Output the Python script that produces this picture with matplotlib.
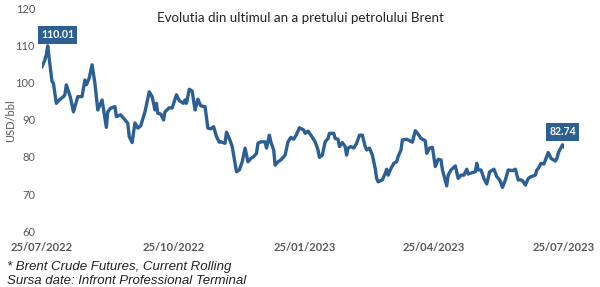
import numpy as np
import pandas as pd
import matplotlib
matplotlib.use("Agg")
import matplotlib.pyplot as plt
import matplotlib.dates as mdates

# days since 25/07/2022 and Brent price (USD/bbl)
start = pd.Timestamp("2022-07-25")
day = [0, 2, 3, 4, 5, 7, 8, 10, 12, 15, 16, 17, 19, 20, 22, 25, 28, 30, 31, 33,
       35, 37, 39, 40, 42, 45, 46, 48, 51, 52, 55, 58, 60, 61, 63, 65, 67, 69, 72, 75,
       77, 79, 80, 81, 83, 85, 86, 89, 91, 94, 96, 99, 100, 101, 103, 105, 107, 109, 111, 114,
       116, 118, 120, 122, 124, 125, 128, 129, 131, 133, 135, 136, 138, 140, 142, 144, 146, 148, 150, 151,
       153, 156, 157, 159, 160, 162, 163, 165, 167, 170, 172, 174, 176, 178, 180, 183, 184, 186, 188, 191,
       193, 194, 196, 198, 200, 201, 204, 205, 207, 208, 210, 212, 213, 214, 216, 218, 220, 222, 224, 226,
       227, 229, 231, 233, 234, 235, 238, 240, 241, 242, 244, 246, 248, 249, 251, 252, 255, 257, 259, 261,
       263, 265, 268, 269, 271, 273, 275, 277, 279, 280, 283, 284, 286, 289, 291, 293, 295, 297, 298, 301,
       303, 304, 305, 307, 309, 311, 313, 316, 318, 320, 322, 324, 326, 329, 331, 333, 335, 336, 338, 340,
       342, 345, 346, 347, 349, 351, 352, 354, 356, 359, 360, 361, 362, 364, 365]
price = [104.4, 106.2, 107.6, 110.01, 106.7, 100.4, 99.9, 94.5, 95.4, 96.3, 96.8, 99.5, 97.2, 95.9, 92.2, 96.3, 96.3, 100.8, 99.5, 101.3,
         104.9, 99.9, 92.7, 93.6, 95.4, 88.0, 92.2, 93.2, 93.6, 90.9, 91.4, 90.0, 89.1, 85.5, 83.9, 89.2, 87.8, 88.4, 92.2, 97.6,
         96.3, 92.7, 94.5, 91.8, 91.6, 90.0, 92.2, 93.3, 93.2, 96.8, 95.2, 94.5, 95.4, 94.5, 98.3, 97.8, 92.7, 95.6, 93.8, 93.6,
         87.8, 87.6, 88.2, 85.5, 84.0, 84.1, 83.7, 86.7, 85.0, 82.8, 78.3, 76.0, 76.5, 78.7, 82.4, 78.7, 79.6, 80.1, 81.0, 83.7,
         84.1, 84.1, 82.4, 85.9, 84.1, 81.9, 77.8, 78.7, 79.2, 80.5, 84.1, 85.3, 84.8, 86.1, 87.9, 87.3, 86.4, 87.0, 85.9, 84.1,
         81.9, 79.9, 80.5, 84.1, 85.0, 86.4, 86.4, 85.0, 84.8, 82.8, 83.9, 82.8, 80.5, 82.4, 82.8, 82.4, 83.7, 85.9, 85.9, 82.8,
         81.9, 82.4, 80.5, 76.9, 74.2, 73.3, 73.8, 75.6, 76.7, 75.1, 76.9, 78.3, 78.7, 80.1, 81.9, 84.6, 84.8, 84.4, 84.0, 87.1,
         86.2, 85.0, 84.4, 81.0, 82.4, 82.6, 77.4, 79.4, 79.2, 76.5, 72.2, 75.1, 76.5, 77.6, 74.2, 75.1, 75.1, 76.7, 75.4, 75.8,
         76.0, 78.3, 76.5, 76.5, 74.2, 72.7, 76.0, 76.7, 74.7, 73.8, 71.8, 73.8, 76.5, 76.3, 76.7, 73.8, 73.8, 73.6, 72.4, 74.2,
         74.7, 75.1, 76.5, 76.9, 78.3, 78.1, 79.2, 81.2, 79.6, 78.9, 79.6, 81.0, 81.9, 83.3, 82.74]
tick_dates = ["2022-07-25", "2022-10-25", "2023-01-25", "2023-04-25", "2023-07-25"]
y_ticks = [60, 70, 80, 90, 100, 110, 120]

dates = start + pd.to_timedelta(day, unit="D")
navy = "#2C5F93"
grey = "#595959"

plt.rcParams['font.family'] = ['Lato', 'DejaVu Sans']
fig = plt.figure(figsize=(6, 2.87), dpi=100)
ax = fig.add_axes([0.07, 0.195, 0.87, 0.774])
ax.plot(dates, price, color=navy, lw=2.4, solid_joinstyle='round')

ax.set_xlim(pd.Timestamp(tick_dates[0]), pd.Timestamp(tick_dates[-1]))
ax.set_ylim(60, 120)
ax.set_yticks(y_ticks)
ax.set_xticks([pd.Timestamp(d) for d in tick_dates])
ax.xaxis.set_major_formatter(mdates.DateFormatter("%d/%m/%Y"))
for s in ax.spines.values():
    s.set_visible(False)
ax.tick_params(length=0, colors=grey, labelsize=8)
ax.tick_params(axis='y', pad=5)
ax.tick_params(axis='x', pad=8)
for lab in ax.get_xticklabels():
    lab.set_fontweight('bold')

fig.text(0.018, 0.58, "USD/bbl", color=grey, fontsize=8, rotation=90,
         ha='center', va='center')
fig.text(0.5, 0.937, "Evolutia din ultimul an a pretului petrolului Brent",
         fontsize=9.6, color='#222222', ha='center', va='center')

# value boxes for max and last
i_max = int(np.argmax(price))
for i, off in [(i_max, (7, 4)), (len(price) - 1, (-1, 7))]:
    ax.annotate(f"{price[i]:.2f}", (dates[i], price[i]), xytext=off,
                textcoords='offset points', ha='center', va='bottom',
                color='white', fontsize=7.6, fontweight='bold',
                bbox=dict(boxstyle='square,pad=0.32', fc=navy, ec='none'))

fig.text(0.012, 0.06, "* Brent Crude Futures, Current Rolling", fontsize=9.5,
         style='italic', family='Liberation Sans', color='#222222')
fig.text(0.012, 0.012, "Sursa date: Infront Professional Terminal", fontsize=9.5,
         style='italic', family='Liberation Sans', color='#222222')

fig.savefig("out.png", dpi=100)
